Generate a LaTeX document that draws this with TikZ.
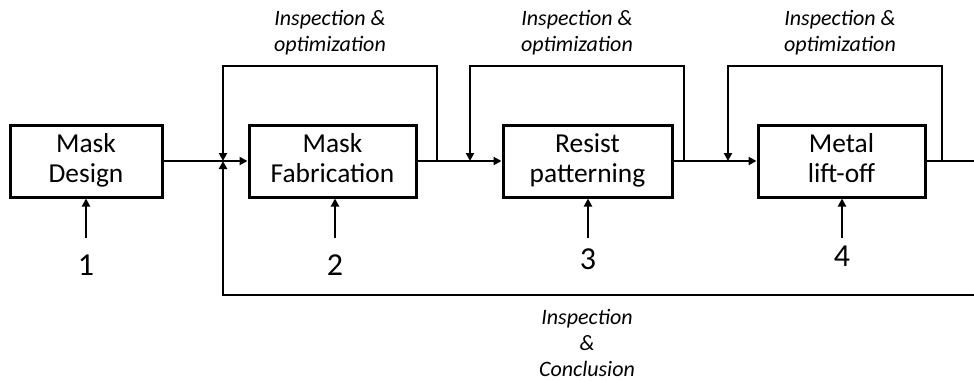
\documentclass[tikz,border=0pt]{standalone}
\usepackage{fontspec}
\setmainfont{Carlito}
\usetikzlibrary{arrows.meta}

\begin{document}
\begin{tikzpicture}[x=0.5pt, y=-0.5pt, >={Triangle[length=4pt,width=4pt]},
    stage/.style={draw, line width=1.5pt, minimum height=36pt, inner sep=0pt,
                  text depth=3pt, align=center, font=\fontsize{13.7}{15}\selectfont},
    flow/.style={line width=1pt},
    note/.style={align=center, font=\fontsize{11}{13}\selectfont\itshape},
    stepnum/.style={font=\fontsize{16}{19}\selectfont}]
    \useasboundingbox (0,0) rectangle (974,381);

    % process stages
    \node[stage, minimum width=76pt]   (b1) at (86,161)    {Mask\\Design};
    \node[stage, minimum width=83.5pt] (b2) at (332.5,161) {Mask\\Fabrication};
    \node[stage, minimum width=84.5pt] (b3) at (587.5,161) {Resist\\patterning};
    \node[stage, minimum width=83.5pt] (b4) at (841.5,161) {Metal\\lift-off};

    % junctions on the main line
    \coordinate (j1) at (223,161);
    \coordinate (j2) at (470,161);
    \coordinate (j3) at (728,161);
    \coordinate (r1) at (437,161);
    \coordinate (r2) at (684,161);
    \coordinate (r3) at (942,161);
    \coordinate (out) at (974,161);
    \coordinate (back) at (974,295);

    \draw[flow, ->] (b1) -- (b2);
    \draw[flow, ->] (b2) -- (b3);
    \draw[flow, ->] (b3) -- (b4);
    \draw[flow] (b4) -- (out);

    % feedback loops
    \draw[flow, ->] (r1) -- ++(0,-95) -| (j1);
    \draw[flow, ->] (r2) -- ++(0,-95) -| (j2);
    \draw[flow, ->] (r3) -- ++(0,-95) -| (j3);
    \draw[flow, ->] (back) -| (j1);

    \node[note] (o1) at (330,33) {Inspection \&\\optimization};
    \node[note] (o2) at (577,33) {Inspection \&\\optimization};
    \node[note] (o3) at (840,33) {Inspection \&\\optimization};
    \node[note] (c1) at (587,343) {Inspection\\\&\\Conclusion};

    % step numbers
    \foreach \n/\x/\y in {1/86/265, 2/335/265, 3/588/259, 4/842/256} {
        \node[stepnum] (n\n) at (\x,\y) {\n};
        \coordinate (t\n) at (\x,238);
        \draw[flow, ->] (t\n) -- (t\n |- b\n.south);
    }
\end{tikzpicture}
\end{document}
